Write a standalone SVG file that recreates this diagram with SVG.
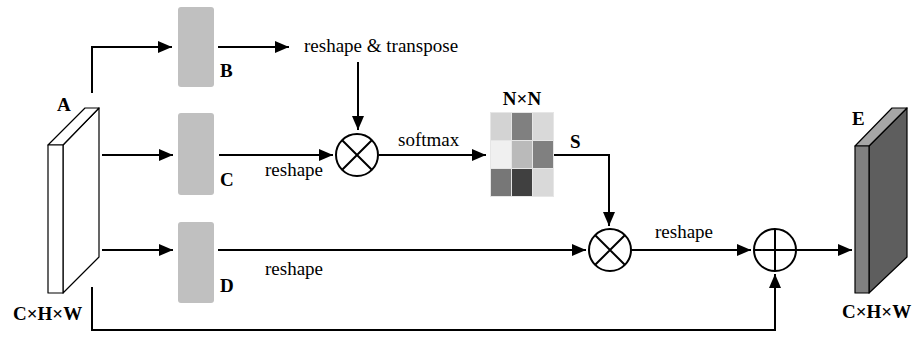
<svg xmlns="http://www.w3.org/2000/svg" width="916" height="337" viewBox="0 0 916 337">
<style>
.lbl{font-family:"Liberation Serif","Times New Roman",serif;font-size:19px;fill:#000}
.b{font-weight:bold}
.conn{fill:none;stroke:#000;stroke-width:2}
.box{fill:#c0c0c0}
.op{fill:#fff;stroke:#000;stroke-width:2}
.t{stroke:#000;stroke-width:1.2;stroke-linejoin:round}
</style>
<defs>
<marker id="ah" markerUnits="userSpaceOnUse" markerWidth="15" markerHeight="12" refX="14" refY="6" orient="auto">
<path d="M0,0 L14,6 L0,12 z" fill="#000"/>
</marker>
</defs>
<rect width="916" height="337" fill="#fff"/>
<g id="connectors">
<polyline class="conn" points="92,93 92,47 172,47" marker-end="url(#ah)"/>
<line class="conn" x1="102" y1="155" x2="173" y2="155" marker-end="url(#ah)"/>
<line class="conn" x1="102" y1="250" x2="173" y2="250" marker-end="url(#ah)"/>
<line class="conn" x1="218" y1="47" x2="289" y2="47" marker-end="url(#ah)"/>
<line class="conn" x1="358" y1="62" x2="358" y2="130" marker-end="url(#ah)"/>
<line class="conn" x1="219" y1="155" x2="333" y2="155" marker-end="url(#ah)"/>
<line class="conn" x1="379" y1="155" x2="486" y2="155" marker-end="url(#ah)"/>
<polyline class="conn" points="554,155 609,155 609,226" marker-end="url(#ah)"/>
<line class="conn" x1="218" y1="250" x2="586" y2="250" marker-end="url(#ah)"/>
<line class="conn" x1="631" y1="250" x2="751" y2="250" marker-end="url(#ah)"/>
<line class="conn" x1="796" y1="250" x2="852" y2="250" marker-end="url(#ah)"/>
<polyline class="conn" points="92,287 92,330 775,330 775,274" marker-end="url(#ah)"/>
<text class="lbl" x="304" y="52">reshape &amp; transpose</text>
<text class="lbl" x="265" y="176">reshape</text>
<text class="lbl" x="398" y="146">softmax</text>
<text class="lbl" x="265" y="275">reshape</text>
<text class="lbl" x="655" y="238">reshape</text>
<text class="lbl b" x="570" y="148">S</text>
</g>
<g id="A">
<polygon class="t" fill="#fff" points="63,145 99,108 99,257 63,293"/>
<polygon class="t" fill="#fff" points="48,145 63,145 99,108 85,108"/>
<rect class="t" fill="#fff" x="48" y="145" width="15" height="148"/>
<text class="lbl b" x="57" y="111">A</text>
<text class="lbl b" x="13" y="320">C×H×W</text>
</g>
<g id="B">
<rect class="box" x="178" y="7" width="36" height="80" rx="3"/>
<text class="lbl b" x="220" y="77">B</text>
</g>
<g id="C">
<rect class="box" x="178" y="113" width="36" height="82" rx="3"/>
<text class="lbl b" x="220" y="186">C</text>
</g>
<g id="D">
<rect class="box" x="178" y="222" width="36" height="81" rx="3"/>
<text class="lbl b" x="220" y="292">D</text>
</g>
<g id="mul1">
<circle class="op" cx="357" cy="155" r="21"/>
<path class="conn" d="M342.2,140.2 L371.8,169.8 M371.8,140.2 L342.2,169.8"/>
</g>
<g id="S">
<rect x="490" y="112" width="64" height="85" fill="#e6e6e6"/>
<rect x="491" y="113" width="20" height="27" fill="#d3d3d3"/>
<rect x="512" y="113" width="20" height="27" fill="#808080"/>
<rect x="533" y="113" width="20" height="27" fill="#d9d9d9"/>
<rect x="491" y="141" width="20" height="27" fill="#f0f0f0"/>
<rect x="512" y="141" width="20" height="27" fill="#bababa"/>
<rect x="533" y="141" width="20" height="27" fill="#808080"/>
<rect x="491" y="169" width="20" height="27" fill="#777777"/>
<rect x="512" y="169" width="20" height="27" fill="#404040"/>
<rect x="533" y="169" width="20" height="27" fill="#d9d9d9"/>
<text class="lbl b" x="522" y="105" text-anchor="middle">N×N</text>
</g>
<g id="mul2">
<circle class="op" cx="610" cy="250" r="21"/>
<path class="conn" d="M595.2,235.2 L624.8,264.8 M624.8,235.2 L595.2,264.8"/>
</g>
<g id="add">
<circle class="op" cx="775" cy="250" r="21"/>
<path class="conn" d="M754,250 L796,250 M775,229 L775,271"/>
</g>
<g id="E">
<polygon class="t" fill="#5e5e5e" points="869,146 907,108 907,257 869,293"/>
<polygon class="t" fill="#a6a6a6" points="855,146 869,146 907,108 892,108"/>
<rect class="t" fill="#808080" x="855" y="146" width="14" height="147"/>
<text class="lbl b" x="852" y="125">E</text>
<text class="lbl b" x="842" y="318">C×H×W</text>
</g>
</svg>
